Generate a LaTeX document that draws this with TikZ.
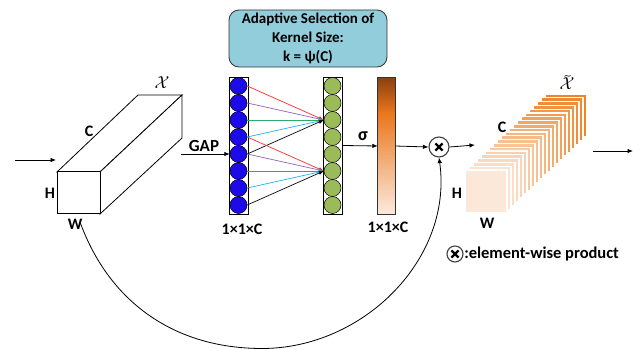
\documentclass[tikz,border=0pt]{standalone}
\usepackage{fontspec}
\setmainfont{Carlito}
\usetikzlibrary{arrows.meta,calc}

\definecolor{boxblue}{RGB}{146,205,220}
\definecolor{ballblue}{RGB}{28,10,232}
\definecolor{ballgreen}{RGB}{155,187,89}
\definecolor{lnred}{RGB}{255,35,35}
\definecolor{lnpurple}{RGB}{140,90,190}
\definecolor{lngreen}{RGB}{40,175,100}
\definecolor{lncyan}{RGB}{25,175,235}
\definecolor{barbrown}{RGB}{140,65,15}
\definecolor{barorange}{RGB}{234,118,28}
\definecolor{barpeach}{RGB}{252,234,222}
\definecolor{slicefront}{RGB}{252,232,216}
\definecolor{sliceback}{RGB}{238,132,40}

\begin{document}
\begin{tikzpicture}[x=1pt,y=-1pt,
  font=\bfseries\fontsize{16}{18}\selectfont,
  arr/.style={-{Latex[length=5.5pt,width=4.5pt]}, line width=0.8pt},
  thinarr/.style={-{Latex[length=5pt,width=4pt]}, line width=0.7pt},
  colframe/.style={draw=black, fill=white, line width=0.8pt, minimum width=19pt, minimum height=137pt, inner sep=0pt},
  ball/.style={circle, draw=black, line width=0.5pt, minimum size=17pt, inner sep=0pt},
  mulsign/.style={circle, draw=black!75, line width=1.1pt, fill=white, inner sep=0pt,
    path picture={\draw[line width=2.2pt, black]
      ($(path picture bounding box.center)+(-3.6,-3.6)$) -- ($(path picture bounding box.center)+(3.6,3.6)$)
      ($(path picture bounding box.center)+(-3.6,3.6)$) -- ($(path picture bounding box.center)+(3.6,-3.6)$);}},
  lbl/.style={inner sep=0pt},
  xlbl/.style={inner sep=0pt, font=\fontsize{16}{17}\selectfont}]

\useasboundingbox (0,0) rectangle (641,350);

% ---------- input feature map (white prism) ----------
\coordinate (pFL) at (57,172);
\coordinate (pFR) at (100,172);
\coordinate (pBL) at (57,214);
\coordinate (pBR) at (100,214);
\coordinate (pTL) at (138,95);
\coordinate (pTR) at (182,95);
\coordinate (pRB) at (182,138);
\draw[line width=0.8pt, fill=white] (pFL) -- (pTL) -- (pTR) -- (pFR) -- cycle;
\draw[line width=0.8pt, fill=white] (pFR) -- (pTR) -- (pRB) -- (pBR) -- cycle;
\draw[line width=1pt, fill=white] (pFL) rectangle (pBR);
\node[xlbl] (xin) at (162,83) {$\mathcal{X}$};
\node[lbl] (cin) at (89,131) {C};
\node[lbl] (hin) at (50,193) {H};
\node[lbl] (win) at (75,224) {W};

\coordinate (inStart) at (15,160);
\coordinate (inEnd) at (56,160);
\draw[arr] (inStart) -- (inEnd);

% ---------- kernel-size box ----------
\node[draw=black!80, line width=0.8pt, fill=boxblue, rounded corners=10pt,
  minimum width=158pt, minimum height=57pt, align=center, inner sep=1pt,
  font=\bfseries\fontsize{15}{19}\selectfont] (ksel) at (308,38.5)
  {Adaptive Selection of\\Kernel Size:\\k = ψ(C)};

% ---------- pooled vector and 1D convolution ----------
\node[colframe] (bluecol) at (238.5,145.5) {};
\node[colframe] (greencol) at (332.5,145.5) {};
\foreach \i in {1,...,8} {
  \node[ball, fill=ballblue] (b\i) at (238.5,{86+17*(\i-1)}) {};
  \node[ball, fill=ballgreen] (g\i) at (332.5,{86+17*(\i-1)}) {};
}
\node[lbl] (blab) at (242,229) {1×1×C};

\coordinate (gapStart) at (181,154);
\draw[arr] (gapStart) -- (b5.west);
\node[lbl, font=\bfseries\fontsize{17}{18}\selectfont] (gap) at (204,146) {GAP};

\draw[thinarr, lnred]    (b1.east) -- (g3.west);
\draw[thinarr, lnpurple] (b2.east) -- (g3.west);
\draw[thinarr, lngreen]  (b3.east) -- (g3.west);
\draw[thinarr, lncyan]   (b4.east) -- (g3.west);
\draw[thinarr, black]    (b5.east) -- (g3.west);
\draw[thinarr, lnred]    (b4.east) -- (g6.west);
\draw[thinarr, lnpurple] (b5.east) -- (g6.west);
\draw[thinarr, lngreen]  (b6.east) -- (g6.west);
\draw[thinarr, lncyan]   (b7.east) -- (g6.west);
\draw[thinarr, black]    (b8.east) -- (g6.west);

% ---------- channel weights bar ----------
\node[draw=none, minimum width=17pt, minimum height=136pt, inner sep=0pt] (bar) at (386.5,146) {};
\shade[top color=barbrown, bottom color=barorange] (378,78) rectangle (395,113);
\shade[top color=barorange, bottom color=barpeach] (378,112.5) rectangle (395,214);
\draw[line width=0.8pt, black!80] (bar.north west) rectangle (bar.south east);
\node[lbl] (barlab) at (388,227) {1×1×C};

\draw[arr] (greencol.east) -- (bar.west);
\node[lbl, font=\bfseries\fontsize{18}{18}\selectfont] (sigma) at (363,136) {σ};

% ---------- element-wise product ----------
\node[mulsign, minimum size=20pt] (mul) at (439,147) {};
\draw[arr] (bar.east) -- (mul.west);

\coordinate (skipStart) at (80,222);
\coordinate (skipLow) at (262,348.5);
\draw[arr] (skipStart) to[out=-70,in=180] (skipLow) to[out=0,in=-82] (mul.south);

% ---------- output feature map (stack of slices) ----------
\foreach \i in {20,19,...,0} {
  \pgfmathtruncatemacro{\p}{5*\i}
  \draw[line width=1.1pt, white, fill=sliceback!\p!slicefront]
    ({465+4*\i},{170-3.8*\i}) rectangle ({507+4*\i},{213-3.8*\i});
}
\node[xlbl] (xout) at (567,84) {$\mathcal{X}$};
% tilde over the output label
\draw[line width=0.6pt] ([shift={(-2.5,-1.5)}]xout.north) .. controls +(1.8,-2.6) and +(-1.8,2.6) .. ([shift={(3.5,-2.5)}]xout.north);
\node[lbl] (cout) at (502,127) {C};
\node[lbl] (hout) at (457,193) {H};
\node[lbl] (wout) at (487,223) {W};

\coordinate (mulOut) at (475,145);
\draw[arr] (mul.east) -- (mulOut);
\coordinate (outStart) at (593,151);
\coordinate (outEnd) at (633,151);
\draw[arr] (outStart) -- (outEnd);

% ---------- legend ----------
\node[mulsign, minimum size=16pt] (legmul) at (455,254) {};
\node[lbl, anchor=west, font=\bfseries\fontsize{16.5}{18}\selectfont] (legtext) at ([xshift=0.5pt]legmul.east) {:element-wise product};

\end{tikzpicture}
\end{document}
